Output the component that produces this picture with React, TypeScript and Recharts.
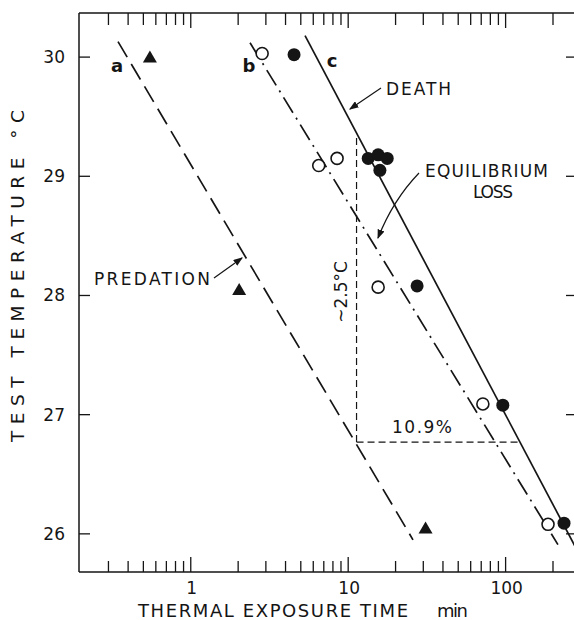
import {
  ReferenceLine,
  Scatter,
  ScatterChart,
  XAxis,
  YAxis,
} from "recharts";

// exposure time (min) vs test temperature (°C)
const PRED_TIME = [0.55, 2.03, 31];
const PRED_TEMP = [30.0, 28.05, 26.05];

const EQUIL_TIME = [2.84, 6.5, 8.5, 15.5, 71.7, 186];
const EQUIL_TEMP = [30.03, 29.09, 29.15, 28.07, 27.09, 26.08];

const DEATH_TIME = [4.53, 13.4, 15.5, 17.7, 15.9, 27.4, 96, 235];
const DEATH_TEMP = [30.02, 29.15, 29.18, 29.15, 29.05, 28.08, 27.08, 26.09];

// fitted lines a, b, c (end points)
const LINE_A_TIME = [0.345, 25.8];
const LINE_A_TEMP = [30.13, 25.95];
const LINE_B_TIME = [2.38, 215];
const LINE_B_TEMP = [30.12, 25.91];
const LINE_C_TIME = [5.32, 275];
const LINE_C_TEMP = [30.18, 25.9];

// the ~2.5 °C / 10.9 % construction
const GUIDE_TIME = [11.3, 124];
const GUIDE_TEMP = [26.77, 29.33];

const X_MAJOR = [1, 10, 100];
const X_TICKS = [
  0.3, 0.4, 0.5, 0.6, 0.7, 0.8, 0.9, 1, 2, 3, 4, 5, 6, 7, 8, 9, 10, 20, 30,
  40, 50, 60, 70, 80, 90, 100, 200,
];
const Y_TICKS = [26, 27, 28, 29, 30];

const X_DOMAIN = [0.195, 280];
const Y_DOMAIN = [25.68, 30.37];

const INK = "#151515";
const FONT = "'DejaVu Sans', sans-serif";

const pts = (xs: number[], ys: number[]) => xs.map((x, i) => ({ x, y: ys[i] }));

const Nothing = () => <g />;

const OpenDot = ({ cx, cy }: any) => (
  <circle cx={cx} cy={cy} r={6} fill="#fff" stroke={INK} strokeWidth={1.6} />
);
const FilledDot = ({ cx, cy }: any) => <circle cx={cx} cy={cy} r={6.5} fill={INK} />;
const Triangle = ({ cx, cy }: any) => (
  <polygon
    points={`${cx},${cy - 6.5} ${cx - 7},${cy + 5.5} ${cx + 7},${cy + 5.5}`}
    fill={INK}
  />
);

function BottomTick({ x, y, payload }: any) {
  const major = X_MAJOR.includes(payload.value);
  return (
    <g>
      <line x1={x} x2={x} y1={y} y2={y - (major ? 15 : 11)} stroke={INK} strokeWidth={1.3} />
      {major && (
        <text x={x + 1} y={y + 22} textAnchor="middle" fontSize={17} fill={INK}>
          {payload.value}
        </text>
      )}
    </g>
  );
}

function TopTick({ x, y, payload }: any) {
  const major = X_MAJOR.includes(payload.value);
  return <line x1={x} x2={x} y1={y} y2={y + (major ? 15 : 12)} stroke={INK} strokeWidth={1.3} />;
}

function LeftTick({ x, y, payload }: any) {
  return (
    <g>
      <line x1={x} x2={x + 11} y1={y} y2={y} stroke={INK} strokeWidth={1.3} />
      <text x={x - 14} y={y + 6} textAnchor="end" fontSize={17} fill={INK}>
        {payload.value}
      </text>
    </g>
  );
}

function RightTick({ x, y }: any) {
  return <line x1={x} x2={x - 10} y1={y} y2={y} stroke={INK} strokeWidth={1.3} />;
}

function Annotations() {
  return (
    <svg
      width={574}
      height={620}
      style={{ position: "absolute", left: 0, top: 0, pointerEvents: "none" }}
    >
      <defs>
        <marker id="head" markerWidth="8" markerHeight="6" refX="7" refY="3" orient="auto">
          <path d="M0,0 L8,3 L0,6 z" fill={INK} />
        </marker>
      </defs>
      <g fill={INK} fontSize={17}>
        <text x={117} y={72} textAnchor="middle" fontWeight="bold" fontSize={18}>a</text>
        <text x={249} y={72} textAnchor="middle" fontWeight="bold" fontSize={18}>b</text>
        <text x={332} y={67} textAnchor="middle" fontWeight="bold" fontSize={18}>c</text>
        <text x={386} y={95} textLength={65} lengthAdjust="spacing">DEATH</text>
        <text x={425} y={177} textLength={123} lengthAdjust="spacing">EQUILIBRIUM</text>
        <text x={473} y={198} textLength={40} lengthAdjust="spacing">LOSS</text>
        <text x={94} y={285} textLength={116} lengthAdjust="spacing">PREDATION</text>
        <text x={392} y={433} textLength={60} lengthAdjust="spacing">10.9%</text>
        <text
          x={0}
          y={0}
          transform="translate(347 292) rotate(-90)"
          textAnchor="middle"
        >
          ~2.5°C
        </text>
        <text
          x={0}
          y={0}
          fontSize={18.5}
          transform="translate(24 276) rotate(-90)"
          textAnchor="middle"
          textLength={332}
          lengthAdjust="spacing"
        >
          TEST TEMPERATURE °C
        </text>
        <text x={138} y={617} fontSize={18} textLength={270} lengthAdjust="spacing">
          THERMAL EXPOSURE TIME
        </text>
        <text x={437} y={617} fontSize={18} textLength={31} lengthAdjust="spacing">min</text>
      </g>
      <g stroke={INK} strokeWidth={1.2} fill="none">
        <line x1={381} y1={88} x2={350} y2={109} markerEnd="url(#head)" />
        <path d="M419,173 Q393,200 378,238" markerEnd="url(#head)" />
        <line x1={214} y1={278} x2={242} y2={258} markerEnd="url(#head)" />
      </g>
    </svg>
  );
}

export default function App() {
  const guideV = [
    { x: GUIDE_TIME[0], y: GUIDE_TEMP[0] },
    { x: GUIDE_TIME[0], y: GUIDE_TEMP[1] },
  ];
  const guideH = [
    { x: GUIDE_TIME[0], y: GUIDE_TEMP[0] },
    { x: GUIDE_TIME[1], y: GUIDE_TEMP[0] },
  ];

  return (
    <div
      style={{
        position: "absolute",
        left: 0,
        top: 0,
        width: 574,
        height: 620,
        overflow: "hidden",
        background: "#fff",
        fontFamily: FONT,
      }}
    >
      <ScatterChart width={580} height={620} margin={{ top: 0, right: 0, bottom: 0, left: 0 }}>
        <XAxis
          type="number"
          dataKey="x"
          scale="log"
          domain={X_DOMAIN}
          allowDataOverflow
          ticks={X_TICKS}
          interval={0}
          tickSize={0}
          tickMargin={0}
          tickLine={false}
          tick={<BottomTick />}
          height={48}
          axisLine={{ stroke: INK, strokeWidth: 1.5 }}
        />
        <XAxis
          xAxisId="top"
          orientation="top"
          type="number"
          dataKey="x"
          scale="log"
          domain={X_DOMAIN}
          allowDataOverflow
          ticks={X_TICKS}
          interval={0}
          tickSize={0}
          tickMargin={0}
          tickLine={false}
          tick={<TopTick />}
          height={13}
          axisLine={{ stroke: INK, strokeWidth: 1.5 }}
        />
        <YAxis
          type="number"
          dataKey="y"
          domain={Y_DOMAIN}
          allowDataOverflow
          ticks={Y_TICKS}
          interval={0}
          tickSize={0}
          tickMargin={0}
          tickLine={false}
          tick={<LeftTick />}
          width={79}
          axisLine={{ stroke: INK, strokeWidth: 1.5 }}
        />
        <YAxis
          yAxisId="right"
          orientation="right"
          type="number"
          dataKey="y"
          domain={Y_DOMAIN}
          allowDataOverflow
          ticks={Y_TICKS}
          interval={0}
          tickSize={0}
          tickMargin={0}
          tickLine={false}
          tick={<RightTick />}
          width={4}
          axisLine={{ stroke: INK, strokeWidth: 1.5 }}
        />

        <ReferenceLine segment={guideV} stroke={INK} strokeWidth={1.2} strokeDasharray="7 4" />
        <ReferenceLine segment={guideH} stroke={INK} strokeWidth={1.2} strokeDasharray="7 4" />

        <Scatter
          data={pts(LINE_A_TIME, LINE_A_TEMP)}
          line={{ stroke: INK, strokeWidth: 1.7, strokeDasharray: "18 8" }}
          shape={<Nothing />}
          isAnimationActive={false}
        />
        <Scatter
          data={pts(LINE_B_TIME, LINE_B_TEMP)}
          line={{ stroke: INK, strokeWidth: 1.7, strokeDasharray: "18 6 2 6" }}
          shape={<Nothing />}
          isAnimationActive={false}
        />
        <Scatter
          data={pts(LINE_C_TIME, LINE_C_TEMP)}
          line={{ stroke: INK, strokeWidth: 1.7 }}
          shape={<Nothing />}
          isAnimationActive={false}
        />

        <Scatter data={pts(PRED_TIME, PRED_TEMP)} shape={<Triangle />} isAnimationActive={false} />
        <Scatter data={pts(EQUIL_TIME, EQUIL_TEMP)} shape={<OpenDot />} isAnimationActive={false} />
        <Scatter data={pts(DEATH_TIME, DEATH_TEMP)} shape={<FilledDot />} isAnimationActive={false} />
      </ScatterChart>
      <Annotations />
    </div>
  );
}
